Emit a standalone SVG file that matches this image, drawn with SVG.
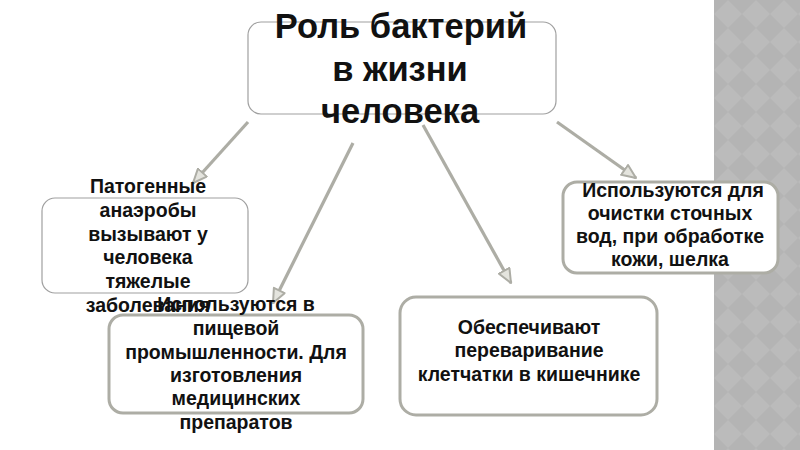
<svg xmlns="http://www.w3.org/2000/svg" width="800" height="450" viewBox="0 0 800 450">
  <style>
    .t { font-family: "Liberation Sans", Arial, sans-serif; font-weight: bold; fill: #111; text-anchor: middle; }
    .title { font-size: 34.5px; }
    .small { font-size: 19.5px; }
    .box-thin { fill: #fff; stroke: #a0a0a0; stroke-width: 1.2; }
    .box-thick { fill: #fff; stroke: #adada5; stroke-width: 3; }
    .conn { fill: none; stroke: #adada5; stroke-width: 3.2; marker-end: url(#arr); }
  </style>
  <defs>
    <marker id="arr" viewBox="0 0 16 14" refX="15" refY="7" markerWidth="16" markerHeight="14" markerUnits="userSpaceOnUse" orient="auto">
      <path d="M1,1 L15,7 L1,13 Z" fill="#e4e4de" stroke="#adada5" stroke-width="2" stroke-linejoin="round"/>
    </marker>
    <pattern id="diam" width="28" height="28" patternUnits="userSpaceOnUse" x="714" y="0">
      <rect width="28" height="28" fill="#b4b4b4"/>
      <path d="M14,0 L28,14 L14,28 L0,14 Z" fill="#bbbbbb"/>
    </pattern>
  </defs>
  <rect x="0" y="0" width="800" height="450" fill="#ffffff"/>
  <rect x="714" y="0" width="86" height="450" fill="url(#diam)"/>

  <g id="connectors">
    <line class="conn" x1="248" y1="122" x2="193" y2="183"/>
    <line class="conn" x1="353" y1="143" x2="273" y2="303"/>
    <line class="conn" x1="423" y1="125" x2="511" y2="283"/>
    <line class="conn" x1="557" y1="122" x2="636" y2="178"/>
  </g>

  <g id="title">
    <rect class="box-thin" x="248" y="22" width="308" height="92" rx="13"/>
    <text class="t title" x="401" y="38">Роль бактерий</text>
    <text class="t title" x="400" y="81">в жизни</text>
    <text class="t title" x="400" y="123">человека</text>
  </g>

  <g id="node-pathogens">
    <rect class="box-thin" x="42" y="198" width="206" height="95" rx="13"/>
    <text class="t small" x="148" y="193">Патогенные</text>
    <text class="t small" x="148" y="217">анаэробы</text>
    <text class="t small" x="148" y="241">вызывают у</text>
    <text class="t small" x="148" y="264">человека</text>
    <text class="t small" x="148" y="288">тяжелые</text>
    <text class="t small" x="148" y="312">заболевания</text>
  </g>

  <g id="node-food">
    <rect class="box-thick" x="109" y="315" width="254" height="98" rx="14"/>
    <text class="t small" x="236" y="311">Используются в</text>
    <text class="t small" x="236" y="335">пищевой</text>
    <text class="t small" x="236" y="359">промышленности. Для</text>
    <text class="t small" x="236" y="382">изготовления</text>
    <text class="t small" x="236" y="405">медицинских</text>
    <text class="t small" x="236" y="429">препаратов</text>
  </g>

  <g id="node-digest">
    <rect class="box-thick" x="400" y="297" width="257" height="118" rx="16"/>
    <text class="t small" x="529" y="334">Обеспечивают</text>
    <text class="t small" x="529" y="357">переваривание</text>
    <text class="t small" x="529" y="381">клетчатки в кишечнике</text>
  </g>

  <g id="node-water">
    <rect class="box-thick" x="563" y="182" width="215" height="91" rx="14"/>
    <text class="t small" x="673" y="197">Используются для</text>
    <text class="t small" x="670" y="220">очистки сточных</text>
    <text class="t small" x="670" y="243">вод, при обработке</text>
    <text class="t small" x="670" y="266">кожи, шелка</text>
  </g>
</svg>
